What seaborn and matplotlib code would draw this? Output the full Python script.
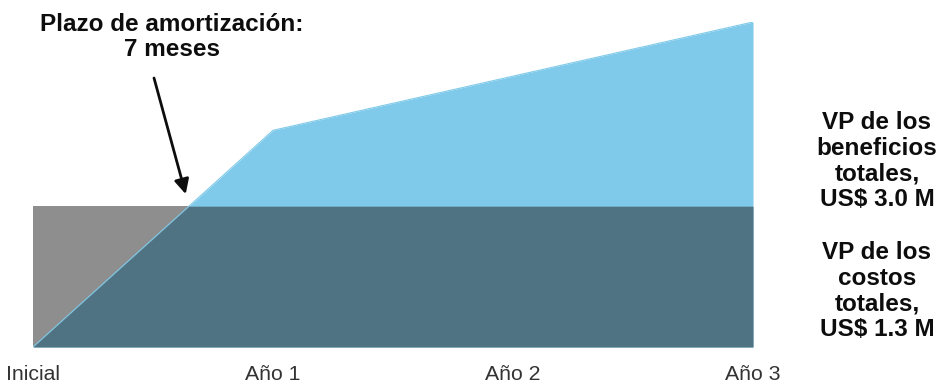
import numpy as np
import pandas as pd
import matplotlib
matplotlib.use("Agg")
import matplotlib.pyplot as plt
import seaborn as sns

# Cumulative present value (US$ M) at each milestone
periods = ["Inicial", "Año 1", "Año 2", "Año 3"]
period_pos = [0, 1, 2, 3]
benefits = [0.0, 2.0, 2.5, 3.0]
total_cost = 1.3

payback_label = "Plazo de amortización:\n7 meses"
benefit_label = "VP de los\nbeneficios\ntotales,\nUS$ 3.0 M"
cost_label = "VP de los\ncostos\ntotales,\nUS$ 1.3 M"

sns.set_theme(style="white")
plt.rcParams["font.family"] = ["Liberation Sans", "DejaVu Sans"]

COL_COST = "#8E8E8E"
COL_BEN = "#7FCAEA"
COL_OVER = "#4F7383"
COL_TEXT = "#0D0D0D"

fig = plt.figure(figsize=(9.39, 3.85), dpi=100)
ax = fig.add_axes([33 / 939, 1 - 347 / 385, (753 - 33) / 939, (347 - 22) / 385])

df = pd.DataFrame({"x": period_pos, "beneficio": benefits})

# Dense grid for the overlap between costs and benefits
xs = np.linspace(period_pos[0], period_pos[-1], 601)
ben_curve = np.interp(xs, period_pos, benefits)

ax.fill_between([period_pos[0], period_pos[-1]], 0, total_cost, color=COL_COST, lw=0, zorder=1)
ax.fill_between(df["x"], 0, df["beneficio"], color=COL_BEN, lw=0, zorder=1)
sns.lineplot(data=df, x="x", y="beneficio", ax=ax, color=COL_BEN, lw=0.8, zorder=1.5)
ax.fill_between(xs, 0, np.minimum(ben_curve, total_cost), color=COL_OVER, lw=0, zorder=2)

ax.set_xlim(period_pos[0], period_pos[-1])
ax.set_ylim(0, benefits[-1])
ax.set_yticks([])
ax.set_xticks(period_pos)
ax.set_xticklabels(periods, fontsize=15.3, color="#333333")
ax.tick_params(axis="x", length=0, pad=13)
ax.set_xlabel("")
ax.set_ylabel("")
for s in ax.spines.values():
    s.set_visible(False)

fig.text(172 / 939, 1 - 37 / 385, payback_label, ha="center", va="center",
         fontsize=17.5, fontweight="bold", color=COL_TEXT, linespacing=1.08)

# Arrow pointing at the payback point, where cumulative benefits reach the total cost
x_pay = np.interp(total_cost, benefits[:2], period_pos[:2])
ax.annotate(
    "",
    xy=(x_pay, total_cost), xycoords="data",
    xytext=(154 / 939, 1 - 78 / 385), textcoords="figure fraction",
    arrowprops=dict(arrowstyle="-|>", color=COL_TEXT, lw=2, mutation_scale=22,
                    shrinkA=0, shrinkB=9),
    annotation_clip=False,
)

fig.text(877 / 939, 1 - 161 / 385, benefit_label, ha="center", va="center",
         fontsize=17.5, fontweight="bold", color=COL_TEXT, linespacing=1.13)
fig.text(877 / 939, 1 - 291 / 385, cost_label, ha="center", va="center",
         fontsize=17.5, fontweight="bold", color=COL_TEXT, linespacing=1.13)

fig.savefig("out.png", dpi=100)
